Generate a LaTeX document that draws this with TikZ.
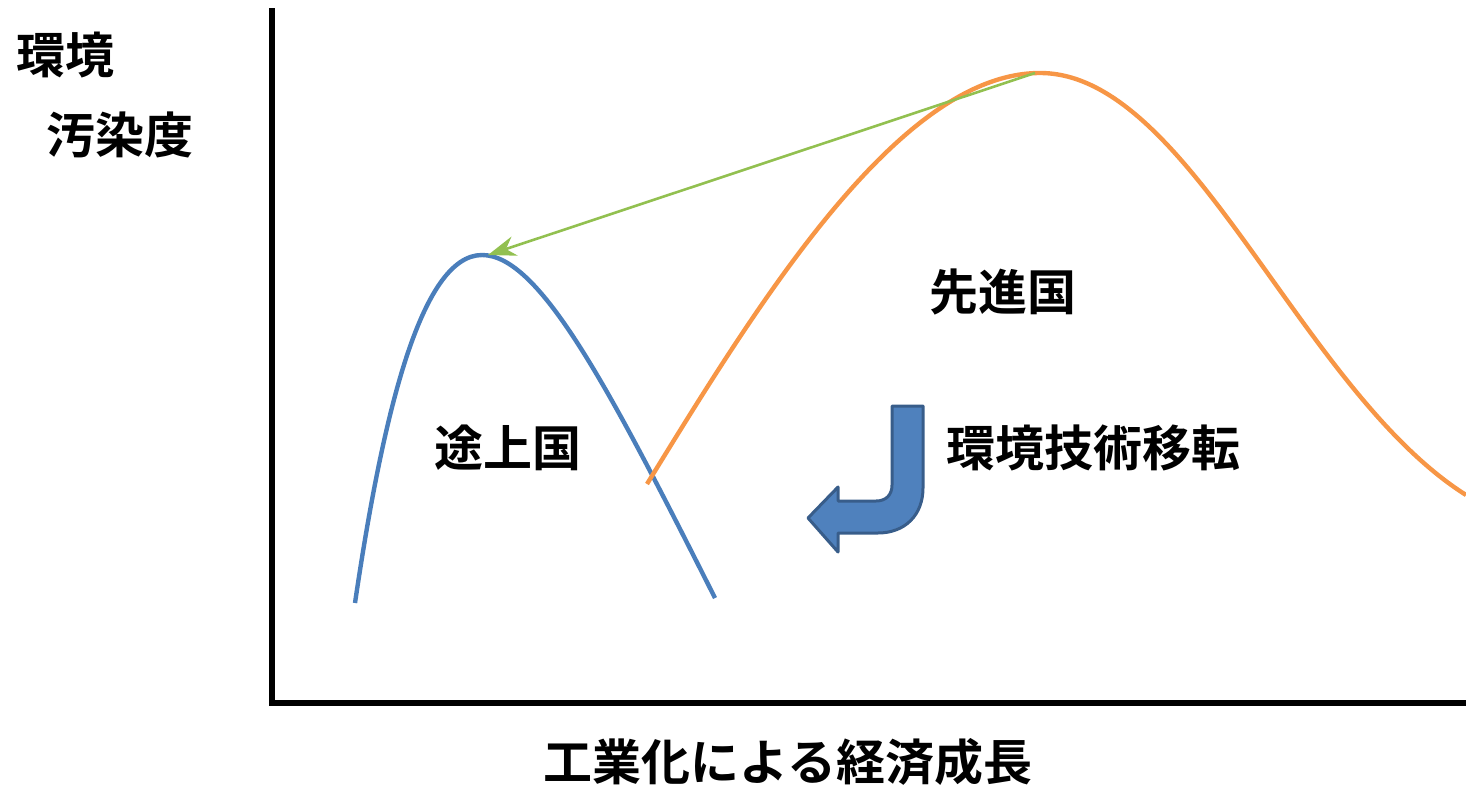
\documentclass[tikz,border=0pt]{standalone}
\usepackage{fontspec}
\newfontfamily\jp{Noto Sans CJK JP}[BoldFont={Noto Sans CJK JP Bold}]
\usetikzlibrary{arrows.meta}
\definecolor{cblue}{RGB}{74,126,187}
\definecolor{corange}{RGB}{247,150,70}
\definecolor{cgreen}{RGB}{146,192,80}
\definecolor{afill}{RGB}{79,129,189}
\definecolor{adraw}{RGB}{56,93,138}
\tikzset{
  lbl/.style={font=\jp\bfseries\fontsize{24.5}{28}\selectfont, inner sep=0pt},
  axis/.style={line width=2.7pt, black},
  curve/.style={line width=2.2pt},
}
\begin{document}
\begin{tikzpicture}[x=0.5pt,y=-0.5pt]
\useasboundingbox (0,0) rectangle (1466,787);
% axes
\coordinate (top) at (272,8);
\coordinate (org) at (272,703);
\coordinate (right) at (1466,703);
\draw[axis] (top) -- (org) -- (right);
% blue curve (developing)
\coordinate (b0) at (355,603);
\coordinate (bp) at (482,255);
\coordinate (b1) at (715,598);
\draw[curve, cblue] (b0) .. controls (382,420) and (420,255) .. (bp)
  .. controls (540,255) and (610,390) .. (b1);
% orange curve (developed)
\coordinate (o0) at (647,484);
\coordinate (op) at (1040,73);
\coordinate (o1) at (1466,495);
\draw[curve, corange] (o0) .. controls (760,300) and (900,73) .. (op)
  .. controls (1190,73) and (1300,390) .. (o1);
% green arrow
\coordinate (gs) at (1035,73);
\coordinate (ge) at (488,255);
\draw[line width=1.3pt, cgreen, -{Stealth[length=14pt,width=10pt]}] (gs) -- (ge);
% bent arrow
\draw[fill=afill, draw=adraw, line width=1.5pt, line join=round]
  (892,406) -- (923,406) -- (923,488)
  .. controls (923,515) and (905,533) .. (878,533)
  -- (838,533) -- (838,552) -- (808,518) -- (838,487) -- (838,501)
  -- (876,501) .. controls (886,501) and (892,495) .. (892,485) -- cycle;
% labels
\node[lbl] (l1) at (66,55) {環境};
\node[lbl] (l2) at (120,135) {汚染度};
\node[lbl] (dev) at (1003,292) {先進国};
\node[lbl] (ldc) at (508,448) {途上国};
\node[lbl] (tech) at (1093,448) {環境技術移転};
\node[lbl] (xl) at (788,762) {工業化による経済成長};
\end{tikzpicture}
\end{document}
